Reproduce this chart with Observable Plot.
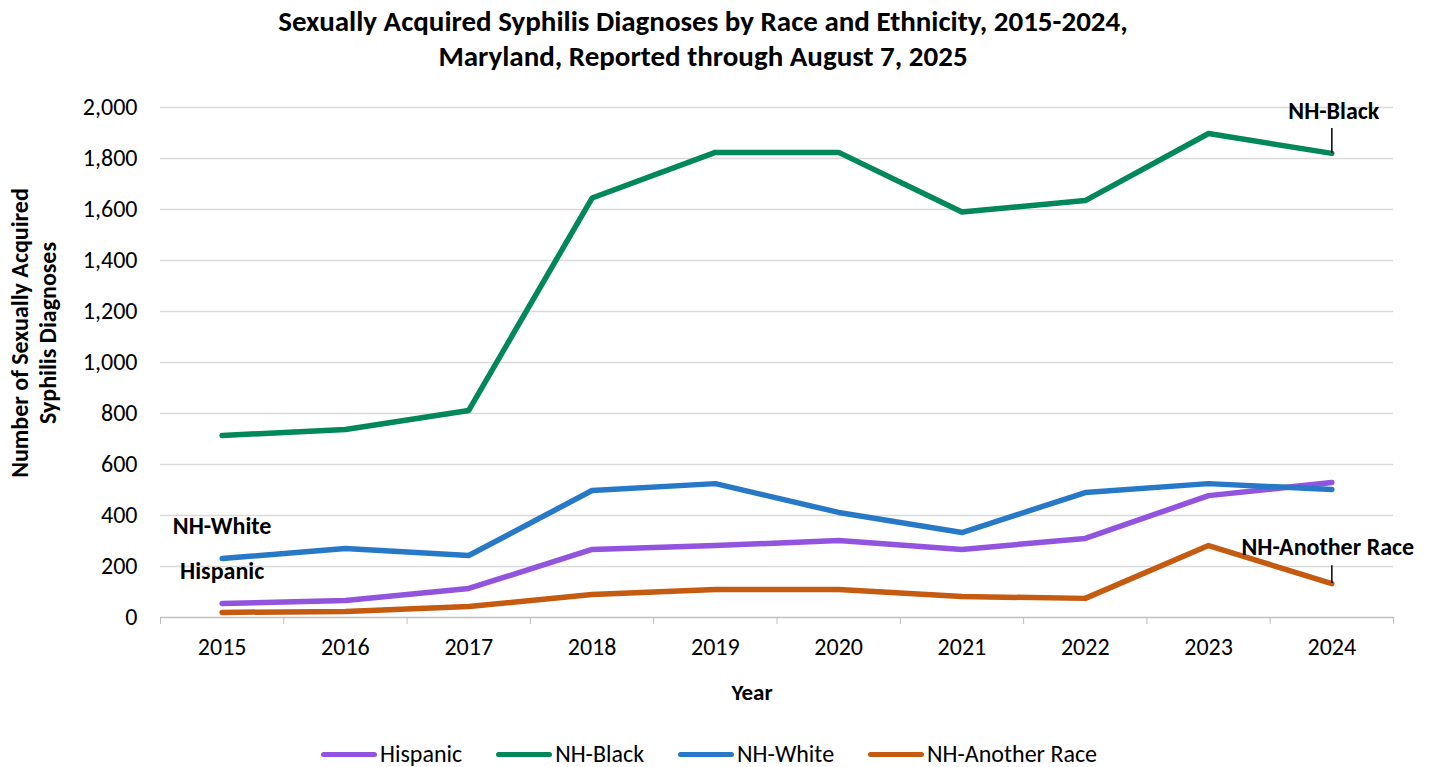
<!DOCTYPE html>
<html>
<head>
<meta charset="utf-8">
<script src="https://cdn.jsdelivr.net/npm/d3@7"></script>
<script src="https://cdn.jsdelivr.net/npm/@observablehq/plot@0.6"></script>
<style>
  body { margin: 0; background: #fff; font-family: Carlito, Lato, sans-serif; }
  #wrap { position: relative; width: 1433px; height: 767px; overflow: hidden; background: #fff; }
  #title { position: absolute; top: 4px; left: 0; width: 1406px; text-align: center; font-weight: bold; font-size: 29px; line-height: 35px; color: #000; z-index: 2; }
  #chart { position: absolute; top: 80px; left: 0; z-index: 1; }
  #ylab { position: absolute; left: 34px; top: 333px; width: 420px; transform: translate(-50%, -50%) rotate(-90deg); text-align: center; font-weight: bold; font-size: 24px; line-height: 28px; z-index: 2; }
  #xlab { position: absolute; top: 678px; left: 752px; transform: translateX(-50%); font-weight: bold; font-size: 23px; z-index: 2; }
  #legend { position: absolute; top: 739px; left: 0; width: 1418px; display: flex; justify-content: center; font-size: 24px; line-height: 30px; z-index: 2; }
  .item { display: flex; align-items: center; margin: 0 17px; }
  .sw { width: 56px; height: 5px; border-radius: 3px; margin-right: 3px; }
</style>
</head>
<body>
<div id="wrap">
  <div id="title">Sexually Acquired Syphilis Diagnoses by Race and Ethnicity, 2015-2024,<br>Maryland, Reported through August 7, 2025</div>
  <div id="chart"></div>
  <div id="ylab">Number of Sexually Acquired<br>Syphilis Diagnoses</div>
  <div id="xlab">Year</div>
  <div id="legend"></div>
</div>
<script>
const years = [2015, 2016, 2017, 2018, 2019, 2020, 2021, 2022, 2023, 2024];
const seriesNames = ["Hispanic", "NH-Black", "NH-White", "NH-Another Race"];
const hispanic = [55, 67, 114, 267, 282, 302, 267, 310, 478, 529];
const nhBlack = [714, 737, 812, 1645, 1824, 1824, 1590, 1635, 1898, 1820];
const nhWhite = [231, 271, 243, 498, 525, 412, 333, 490, 525, 502];
const nhAnother = [20, 24, 43, 90, 110, 110, 82, 75, 282, 133];
const colors = ["#9254DE", "#00875A", "#2878C8", "#C55A11"];
const yTicks = [0, 200, 400, 600, 800, 1000, 1200, 1400, 1600, 1800, 2000];

const seriesValues = [hispanic, nhBlack, nhWhite, nhAnother];
const rows = [];
seriesNames.forEach((s, i) => years.forEach((y, j) => rows.push({series: s, year: y, value: seriesValues[i][j]})));
const boundaries = [years[0] - 0.5, ...years.map(y => y + 0.5)];

const pick = (s, y) => rows.filter(d => d.series === s && d.year === y);
const lblStyle = {x: "year", y: "value", text: "series", fontWeight: "bold", fontSize: 24, fill: "#000"};

const chart = Plot.plot({
  width: 1433,
  height: 640,
  marginTop: 27,
  marginBottom: 103,
  marginLeft: 160,
  marginRight: 40,
  style: {fontFamily: "Carlito, Lato, sans-serif", fontSize: "24px", color: "#000", background: "#fff", overflow: "visible"},
  x: {type: "linear", domain: [boundaries[0], boundaries[boundaries.length - 1]]},
  y: {domain: [0, 2000]},
  color: {domain: seriesNames, range: colors},
  marks: [
    Plot.gridY(yTicks.slice(1), {stroke: "#d9d9d9", strokeOpacity: 1, strokeWidth: 1.5}),
    Plot.axisY(yTicks, {tickSize: 0, tickPadding: 23, tickFormat: d3.format(","), label: null, fontSize: 24}),
    Plot.ruleY([0], {stroke: "#bfbfbf", strokeWidth: 1.5}),
    Plot.axisX(boundaries, {tickSize: 7, tickFormat: () => "", stroke: "#bfbfbf", label: null}),
    Plot.axisX(years, {tickSize: 0, tickPadding: 20, tickFormat: d3.format("d"), label: null, fontSize: 24}),
    Plot.lineY(rows, {x: "year", y: "value", z: "series", stroke: "series", strokeWidth: 5.5, strokeLinecap: "round", strokeLinejoin: "round"}),
    Plot.ruleX(pick("NH-Black", 2024), {x: "year", y1: "value", y2: d => d.value + 98, stroke: "#000", strokeWidth: 1.5}),
    Plot.ruleX(pick("NH-Another Race", 2024), {x: "year", y1: "value", y2: d => d.value + 70, stroke: "#000", strokeWidth: 1.5}),
    Plot.text(pick("NH-Black", 2024), {...lblStyle, dy: -42, dx: 2}),
    Plot.text(pick("NH-White", 2015), {...lblStyle, dy: -32}),
    Plot.text(pick("Hispanic", 2015), {...lblStyle, dy: -32}),
    Plot.text(pick("NH-Another Race", 2024), {...lblStyle, dy: -36, dx: -4})
  ]
});
document.getElementById("chart").appendChild(chart);

const legend = document.getElementById("legend");
seriesNames.forEach((s, i) => {
  const it = document.createElement("div");
  it.className = "item";
  const sw = document.createElement("div");
  sw.className = "sw";
  sw.style.background = colors[i];
  const t = document.createElement("span");
  t.textContent = s;
  it.appendChild(sw);
  it.appendChild(t);
  legend.appendChild(it);
});
</script>
</body>
</html>
